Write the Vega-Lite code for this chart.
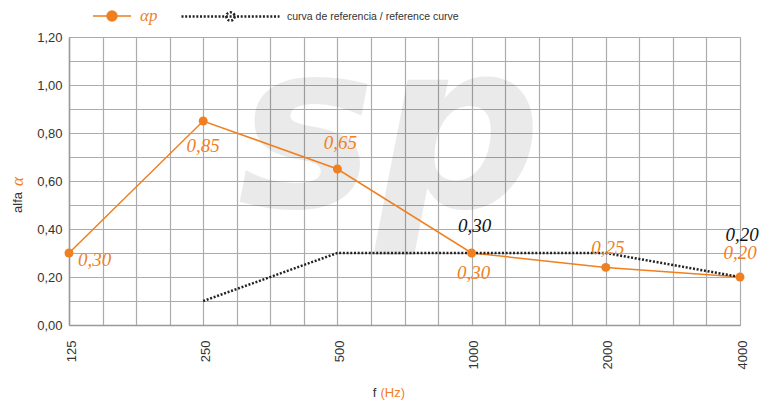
{
  "$schema": "https://vega.github.io/schema/vega-lite/v6.json",
  "width": 671,
  "height": 288,
  "autosize": {"type": "none"},
  "padding": {"left": 69, "top": 37, "right": 29, "bottom": 78},
  "background": "white",
  "config": {"view": {"stroke": null}},
  "data": {
    "values": [
      {"series": "αp", "freq": 125, "alpha": 0.30, "label": "0,30"},
      {"series": "αp", "freq": 250, "alpha": 0.85, "label": "0,85"},
      {"series": "αp", "freq": 500, "alpha": 0.65, "label": "0,65"},
      {"series": "αp", "freq": 1000, "alpha": 0.30, "label": "0,30"},
      {"series": "αp", "freq": 2000, "alpha": 0.24, "label": "0,25"},
      {"series": "αp", "freq": 4000, "alpha": 0.20, "label": "0,20"},
      {"series": "curva de referencia / reference curve", "freq": 250, "alpha": 0.10, "label": ""},
      {"series": "curva de referencia / reference curve", "freq": 500, "alpha": 0.30, "label": ""},
      {"series": "curva de referencia / reference curve", "freq": 1000, "alpha": 0.30, "label": "0,30"},
      {"series": "curva de referencia / reference curve", "freq": 2000, "alpha": 0.30, "label": ""},
      {"series": "curva de referencia / reference curve", "freq": 4000, "alpha": 0.20, "label": "0,20"}
    ]
  },
  "layer": [
    {
      "data": {"values": [{"logo": "sp"}]},
      "mark": {"type": "text", "font": "DejaVu Sans", "fontStyle": "italic", "fontWeight": "bold", "fontSize": 232, "color": "#000000", "opacity": 0.08, "align": "center", "baseline": "alphabetic"},
      "encoding": {
        "x": {"datum": 655, "type": "quantitative", "scale": {"type": "log", "base": 2, "domain": [125, 4000], "nice": false}, "axis": null},
        "y": {"datum": 0.49, "type": "quantitative", "scale": {"domain": [0, 1.2], "nice": false}, "axis": null},
        "text": {"field": "logo", "type": "nominal"}
      }
    },
    {
      "transform": [{"filter": "datum.series === 'αp'"}],
      "mark": {"type": "line", "strokeWidth": 1.5},
      "encoding": {
        "x": {
          "field": "freq", "type": "quantitative",
          "scale": {"type": "log", "base": 2, "domain": [125, 4000], "nice": false},
          "axis": {
            "orient": "bottom",
            "values": [125, 148.65, 176.78, 210.22, 250, 297.3, 353.55, 420.45, 500, 594.6, 707.11, 840.9, 1000, 1189.21, 1414.21, 1681.79, 2000, 2378.41, 2828.43, 3363.59, 4000],
            "grid": true, "gridColor": "#ababab", "gridWidth": 1.2,
            "ticks": false, "tickSize": 0,
            "domain": true, "domainColor": "#999999", "domainWidth": 1.5,
            "labelExpr": "indexof([125,250,500,1000,2000,4000], datum.value) >= 0 ? '' + datum.value : ''",
            "labelAngle": -90, "labelAlign": "right", "labelBaseline": "middle",
            "labelPadding": 15, "labelOffset": 2, "labelFlush": false, "labelOverlap": false, "labelBound": false,
            "labelFont": "Liberation Sans", "labelFontSize": 13, "labelColor": "#333333",
            "title": "f", "titleX": 305, "titleY": 67, "titleAlign": "center", "titleBaseline": "middle",
            "titleFont": "Liberation Sans", "titleFontSize": 13, "titleFontWeight": "normal", "titleColor": "#333333"
          }
        },
        "y": {
          "field": "alpha", "type": "quantitative",
          "scale": {"domain": [0, 1.2], "nice": false},
          "axis": {
            "orient": "left",
            "values": [0, 0.1, 0.2, 0.3, 0.4, 0.5, 0.6, 0.7, 0.8, 0.9, 1, 1.1, 1.2],
            "grid": true, "gridColor": "#ababab", "gridWidth": 1.2,
            "ticks": false, "tickSize": 0,
            "domain": true, "domainColor": "#999999", "domainWidth": 1.5,
            "labelExpr": "round(datum.value * 10) % 2 == 0 ? replace(format(datum.value, '.2f'), '.', ',') : ''",
            "labelPadding": 7, "labelOverlap": false, "labelFlush": false,
            "labelFont": "Liberation Sans", "labelFontSize": 13, "labelColor": "#333333",
            "title": "alfa", "titleX": -52, "titleY": 165, "titleAngle": 270, "titleAlign": "center", "titleBaseline": "middle",
            "titleFont": "Liberation Sans", "titleFontSize": 13, "titleFontWeight": "normal", "titleColor": "#333333"
          }
        },
        "color": {
          "field": "series", "type": "nominal",
          "scale": {"domain": ["αp"], "range": ["#f07f1f"]},
          "legend": {
            "orient": "none", "legendX": 23, "legendY": -41, "title": null, "padding": 0,
            "symbolType": "M-1,0L1,0M0.26,0A0.26,0.26,0,1,1,-0.26,0A0.26,0.26,0,1,1,0.26,0Z",
            "symbolSize": 1444, "symbolStrokeWidth": 1.5,
            "labelFont": "Liberation Serif", "labelFontStyle": "italic", "labelFontSize": 17, "labelColor": "#f07f1f", "labelOffset": 8,
            "encode": {"symbols": {"update": {"fill": {"value": "#f07f1f"}, "stroke": {"value": "#f07f1f"}, "opacity": {"value": 1}}}}
          }
        }
      }
    },
    {
      "transform": [{"filter": "datum.series !== 'αp'"}],
      "mark": {"type": "line", "strokeWidth": 2.5, "color": "#222222"},
      "encoding": {
        "x": {"field": "freq", "type": "quantitative", "axis": null},
        "y": {"field": "alpha", "type": "quantitative", "axis": null},
        "strokeDash": {
          "field": "series", "type": "nominal",
          "scale": {"domain": ["curva de referencia / reference curve"], "range": [[2, 1.7]]},
          "legend": {
            "orient": "none", "legendX": 111, "legendY": -71, "title": null, "padding": 0,
            "symbolType": "M-1,0L1,0M0.085,0A0.085,0.085,0,1,1,-0.085,0A0.085,0.085,0,1,1,0.085,0Z",
            "symbolSize": 9604, "symbolStrokeWidth": 2.5,
            "labelFont": "Liberation Sans", "labelFontSize": 10.5, "labelColor": "#333333", "labelOffset": 6, "labelLimit": 400,
            "encode": {"symbols": {"update": {"fill": {"value": "#222222"}, "stroke": {"value": "#222222"}, "opacity": {"value": 1}}}}
          }
        }
      }
    },
    {
      "transform": [{"filter": "datum.series === 'αp'"}],
      "mark": {"type": "circle", "size": 80, "color": "#f07f1f", "opacity": 1},
      "encoding": {
        "x": {"field": "freq", "type": "quantitative", "axis": null},
        "y": {"field": "alpha", "type": "quantitative", "axis": null}
      }
    },
    {
      "transform": [{"filter": "datum.series === 'αp'"}],
      "mark": {
        "type": "text", "font": "Liberation Serif", "fontStyle": "italic", "fontSize": 19, "color": "#f07f1f", "baseline": "middle",
        "align": {"expr": "datum.freq == 125 ? 'left' : 'center'"},
        "dx": {"expr": "datum.freq == 125 ? 9 : datum.freq == 500 ? 3 : datum.freq == 1000 ? 2 : datum.freq == 2000 ? 2 : 0"},
        "dy": {"expr": "datum.freq == 125 ? 7 : datum.freq == 250 ? 25 : datum.freq == 500 ? -26 : datum.freq == 1000 ? 20 : datum.freq == 2000 ? -19 : -24"}
      },
      "encoding": {
        "x": {"field": "freq", "type": "quantitative", "axis": null},
        "y": {"field": "alpha", "type": "quantitative", "axis": null},
        "text": {"field": "label", "type": "nominal"}
      }
    },
    {
      "transform": [{"filter": "datum.series !== 'αp' && datum.label !== ''"}],
      "mark": {
        "type": "text", "font": "Liberation Serif", "fontStyle": "italic", "fontSize": 19, "color": "#111111", "baseline": "middle", "align": "center",
        "dx": {"expr": "datum.freq == 1000 ? 3 : 2"},
        "dy": {"expr": "datum.freq == 1000 ? -27 : -42"}
      },
      "encoding": {
        "x": {
          "field": "freq", "type": "quantitative",
          "axis": {
            "orient": "bottom", "labels": false, "ticks": false, "domain": false, "grid": false,
            "title": "(Hz)", "titleX": 311, "titleY": 67, "titleAlign": "left", "titleBaseline": "middle",
            "titleFont": "Liberation Sans", "titleFontSize": 13, "titleFontWeight": "normal", "titleColor": "#f07f1f"
          }
        },
        "y": {
          "field": "alpha", "type": "quantitative",
          "axis": {
            "orient": "left", "labels": false, "ticks": false, "domain": false, "grid": false,
            "title": "α", "titleX": -52, "titleY": 144, "titleAngle": 270, "titleAlign": "center", "titleBaseline": "middle",
            "titleFont": "Liberation Serif", "titleFontStyle": "italic", "titleFontSize": 17, "titleFontWeight": "normal", "titleColor": "#f07f1f"
          }
        },
        "text": {"field": "label", "type": "nominal"}
      }
    }
  ],
  "resolve": {"axis": {"x": "independent", "y": "independent"}}
}
